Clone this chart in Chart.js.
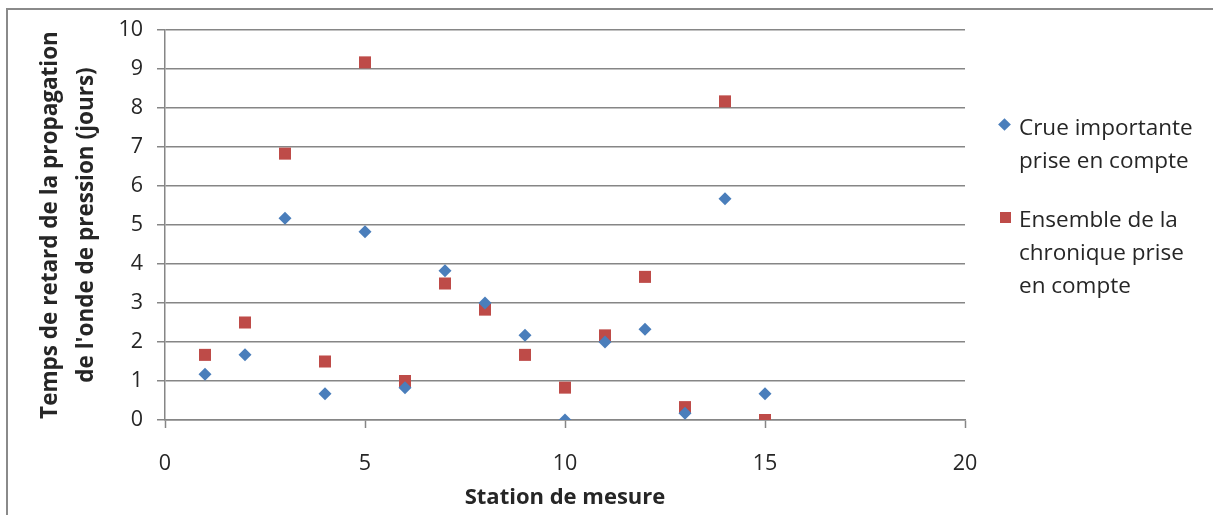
<!DOCTYPE html>
<html>
<head>
<meta charset="utf-8">
<script src="https://cdn.jsdelivr.net/npm/chart.js@4"></script>
<style>
  body { margin: 0; background: #fff; }
  #wrap { position: relative; width: 1213px; height: 515px; overflow: hidden; }
  #frame { position: absolute; left: 6px; top: 8px; width: 1400px; height: 700px;
           border-left: 2px solid #8a8a8a; border-top: 2px solid #8a8a8a; }
  #chart { position: absolute; left: 0; top: 0; }
  .leg { position: absolute; left: 1019px; font-family: 'Open Sans', sans-serif;
         font-size: 22.5px; line-height: 33px; color: #262626; }
  .mk { position: absolute; }
</style>
</head>
<body>
<div id="wrap">
  <div id="frame"></div>
  <canvas id="chart" width="1213" height="515"></canvas>
  <span class="mk" style="left:1000px;top:120px;width:9px;height:9px;background:#4A7EBB;transform:rotate(45deg);"></span>
  <div class="leg" style="top:110px;">Crue importante<br>prise en compte</div>
  <span class="mk" style="left:1000px;top:212px;width:11px;height:11px;background:#BE4B48;"></span>
  <div class="leg" style="top:202px;">Ensemble de la<br>chronique prise<br>en compte</div>
</div>
<script>
'use strict';

var stations = [1, 2, 3, 4, 5, 6, 7, 8, 9, 10, 11, 12, 13, 14, 15];
var crueValues = [1.17, 1.67, 5.17, 0.67, 4.83, 0.83, 3.83, 3.0, 2.17, 0, 2.0, 2.33, 0.17, 5.67, 0.67];
var ensembleValues = [1.67, 2.5, 6.83, 1.5, 9.17, 1.0, 3.5, 2.83, 1.67, 0.83, 2.17, 3.67, 0.33, 8.17, 0];
var seriesNames = ['Crue importante prise en compte', 'Ensemble de la chronique prise en compte'];
var yTitle = ['Temps de retard de la propagation', "de l'onde de pression (jours)"];
var xTitle = 'Station de mesure';

function toPoints(values) {
    var pts = [];
    for (var i = 0; i < stations.length; i++) {
        pts.push({ x: stations[i], y: values[i] });
    }
    return pts;
}

var gridColor = '#868686';
var textColor = '#262626';

var ctx = document.getElementById('chart').getContext('2d');
var chart = new Chart(ctx, {
    type: 'scatter',
    data: {
        datasets: [{
            label: seriesNames[0],
            data: toPoints(crueValues),
            pointStyle: 'rectRot',
            pointRadius: 6.5,
            pointHoverRadius: 6.5,
            backgroundColor: '#4A7EBB',
            borderColor: '#4A7EBB',
            borderWidth: 0
        }, {
            label: seriesNames[1],
            data: toPoints(ensembleValues),
            pointStyle: 'rect',
            pointRadius: 8.5,
            pointHoverRadius: 8.5,
            backgroundColor: '#BE4B48',
            borderColor: '#BE4B48',
            borderWidth: 0
        }]
    },
    options: {
        responsive: false,
        animation: false,
        layout: { autoPadding: false, padding: { top: 30, right: 248, left: 0, bottom: 0 } },
        plugins: { legend: { display: false }, tooltip: { enabled: false } },
        scales: {
            x: {
                type: 'linear',
                min: 0,
                max: 20,
                afterFit: function(scale) { scale.height = 95; },
                ticks: { stepSize: 5, padding: 23, color: textColor, font: { family: 'Open Sans', size: 21.5 } },
                grid: { drawOnChartArea: false, tickLength: 8, tickColor: gridColor, tickWidth: 1.5 },
                border: { color: gridColor, width: 1.5 },
                title: {
                    display: true,
                    text: xTitle,
                    color: textColor,
                    padding: { top: 0, bottom: 4 },
                    font: { family: 'Open Sans', size: 22, weight: 'bold', lineHeight: 1.2 }
                }
            },
            y: {
                min: 0,
                max: 10,
                afterFit: function(scale) { scale.width = 165; },
                ticks: { stepSize: 1, padding: 14, color: textColor, font: { family: 'Open Sans', size: 21.5 } },
                grid: { color: gridColor, lineWidth: 1.5, tickLength: 8, tickColor: gridColor },
                border: { color: gridColor, width: 1.5 },
                title: {
                    display: true,
                    text: yTitle,
                    color: textColor,
                    padding: { top: 32, bottom: 0 },
                    font: { family: 'Open Sans', size: 22.5, weight: 'bold', lineHeight: 1.63 }
                }
            }
        }
    }
});
</script>
</body>
</html>
